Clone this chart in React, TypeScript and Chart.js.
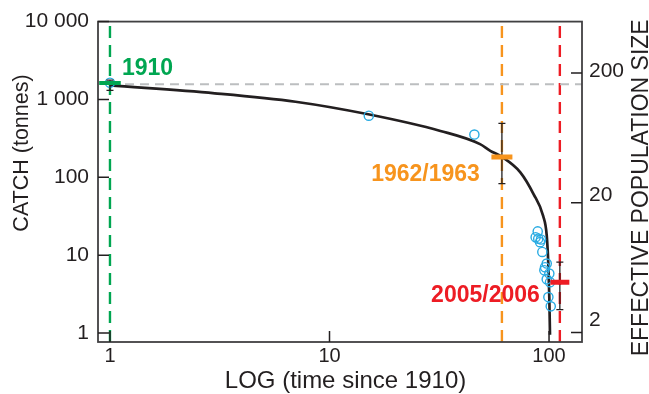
import { useEffect, useRef } from "react";
import { Chart, registerables } from "chart.js";

Chart.register(...registerables);

// ---------- data ----------
// axis ranges
const X_MIN = 0.882;
const X_MAX = 141.3;
const CATCH_MIN = 0.767;
const CATCH_MAX = 10000;
const NE_MIN = 1.686;
const NE_MAX = 498;

// tick values
const xTicks = [1, 10, 100];
const catchTicks = [1, 10, 100, 1000, 10000];
const neTicks = [2, 20, 200];

// fitted catch curve: time since 1910, catch (tonnes)
const curveT = [1, 3, 7, 15, 32, 48.5, 54, 61, 74, 85, 94, 97.6, 99.3, 100.3, 101];
const curveC = [1514, 1200, 935, 645, 394, 267, 219, 183, 116, 61, 32, 18, 7.4, 2.8, 0.95];

// observed catches
const obsT = [1, 15.1, 45.7, 86.9, 88.8, 89.3, 91.0, 91.9, 93.2, 95.2, 95.9, 97.6, 97.6, 99.3, 100.3, 101, 101.8];
const obsC = [1640, 619, 354, 17.0, 20.2, 16.3, 14.7, 15.9, 11.0, 6.4, 7.0, 7.8, 4.9, 2.9, 5.8, 4.5, 2.2];

// effective population size estimates
const neLabels = ["1910", "1962/1963", "2005/2006"];
const neT = [1, 61, 112];
const neMid = [167.6, 45.1, 4.87];
const neLo = [147, 28.1, 3.0];
const neHi = [176, 81.8, 6.97];
const neRef = 164; // reference level (1910)

// ---------- styles ----------
const FONT = '"Liberation Sans", Arial, Helvetica, sans-serif';
const INK = "#231f20";
const FRAME = "#414042";
const BLUE = "#29abe2";
const GREY = "#bcbec0";
const EVENT_COLORS = ["#00a651", "#f7941d", "#ed1c24"];
const MARKER_RADIUS = [10.8, 10.5, 9.5];
const MARKER_WIDTH = [4, 5, 5];
const LABEL_DX = [12, -22, -20];
const LABEL_DY = [-7.7, 24, 20];
const LABEL_ALIGN: CanvasTextAlign[] = ["left", "right", "right"];
const NE_LABEL_NUDGE = [-12.5, -7, -2.2];
const TICK = 11;

const fmtCatch = (v: number) => String(Math.round(v)).replace(/\B(?=(\d{3})+(?!\d))/g, " ");

const decor = {
  id: "decor",
  afterDatasetsDraw(chart: any) {
    const { ctx, chartArea: a, scales } = chart;
    ctx.save();
    // frame
    ctx.strokeStyle = FRAME;
    ctx.lineWidth = 1.8;
    ctx.strokeRect(a.left, a.top, a.right - a.left, a.bottom - a.top);
    // inward tick marks
    ctx.strokeStyle = INK;
    ctx.lineWidth = 1.5;
    ctx.beginPath();
    catchTicks.forEach((v) => {
      const y = scales.y.getPixelForValue(v);
      ctx.moveTo(a.left, y);
      ctx.lineTo(a.left + TICK, y);
    });
    xTicks.forEach((v) => {
      const x = scales.x.getPixelForValue(v);
      ctx.moveTo(x, a.bottom);
      ctx.lineTo(x, a.bottom - TICK);
    });
    neTicks.forEach((v) => {
      const y = scales.y2.getPixelForValue(v);
      ctx.moveTo(a.right, y);
      ctx.lineTo(a.right - TICK, y);
    });
    ctx.stroke();

    // right axis tick labels
    ctx.fillStyle = INK;
    ctx.font = `21px ${FONT}`;
    ctx.textAlign = "left";
    ctx.textBaseline = "middle";
    neTicks.forEach((v, i) => {
      ctx.fillText(String(v), a.right + 7, scales.y2.getPixelForValue(v) + NE_LABEL_NUDGE[i]);
    });

    // axis titles
    ctx.textAlign = "center";
    ctx.textBaseline = "alphabetic";
    ctx.font = `24px ${FONT}`;
    ctx.fillText("LOG (time since 1910)", (a.left + a.right) / 2 + 5.5, 388.3);

    ctx.save();
    ctx.translate(28, 153);
    ctx.rotate(-Math.PI / 2);
    ctx.font = `21.5px ${FONT}`;
    ctx.fillText("CATCH (tonnes)", 0, 0);
    ctx.restore();

    ctx.save();
    ctx.translate(648, (a.top + a.bottom) / 2 + 6);
    ctx.rotate(-Math.PI / 2);
    ctx.font = `23px ${FONT}`;
    ctx.fillText("EFFECTIVE POPULATION SIZE", 0, 0);
    ctx.restore();

    // event labels
    ctx.font = `bold 23px ${FONT}`;
    neLabels.forEach((lab, i) => {
      ctx.fillStyle = EVENT_COLORS[i];
      ctx.textAlign = LABEL_ALIGN[i];
      const x = scales.x.getPixelForValue(neT[i]) + LABEL_DX[i];
      const y = scales.y2.getPixelForValue(neMid[i]) + LABEL_DY[i];
      ctx.fillText(lab, x, y);
    });
    ctx.restore();
  },
};

export default function App() {
  const ref = useRef<HTMLCanvasElement | null>(null);

  useEffect(() => {
    if (!ref.current) return;
    const datasets: any[] = [];

    // vertical event lines
    neT.forEach((t, i) => {
      datasets.push({
        type: "line",
        data: [
          { x: t, y: CATCH_MIN },
          { x: t, y: CATCH_MAX },
        ],
        yAxisID: "y",
        borderColor: EVENT_COLORS[i],
        borderWidth: 2.4,
        borderDash: [12, 7],
        pointRadius: 0,
        order: 10,
      });
    });

    // grey reference line
    datasets.push({
      type: "line",
      data: [
        { x: neT[0], y: neRef },
        { x: X_MAX, y: neRef },
      ],
      yAxisID: "y2",
      borderColor: GREY,
      borderWidth: 2,
      borderDash: [9, 6],
      pointRadius: 0,
      order: 9,
    });

    // fitted curve
    datasets.push({
      type: "line",
      data: curveT.map((t, i) => ({ x: t, y: curveC[i] })),
      yAxisID: "y",
      borderColor: INK,
      borderWidth: 2.7,
      pointRadius: 0,
      cubicInterpolationMode: "monotone",
      order: 8,
    });

    // observed catches
    datasets.push({
      type: "scatter",
      data: obsT.map((t, i) => ({ x: t, y: obsC[i] })),
      yAxisID: "y",
      pointStyle: "circle",
      pointRadius: 4.6,
      pointBorderWidth: 1.4,
      pointBorderColor: BLUE,
      pointBackgroundColor: "rgba(0,0,0,0)",
      order: 6,
    });

    // error bars
    neT.forEach((t, i) => {
      datasets.push({
        type: "line",
        data: [
          { x: t, y: neLo[i] },
          { x: t, y: neHi[i] },
        ],
        yAxisID: "y2",
        borderColor: INK,
        borderWidth: 1.3,
        pointStyle: "line",
        pointRadius: 3.5,
        pointBorderWidth: 1.3,
        pointBorderColor: INK,
        order: 4,
      });
    });

    // Ne markers
    neT.forEach((t, i) => {
      datasets.push({
        type: "scatter",
        data: [{ x: t, y: neMid[i] }],
        yAxisID: "y2",
        pointStyle: "line",
        pointRadius: MARKER_RADIUS[i],
        pointBorderWidth: MARKER_WIDTH[i],
        pointBorderColor: EVENT_COLORS[i],
        order: 2,
      });
    });

    const chart = new Chart(ref.current, {
      type: "scatter",
      data: { datasets },
      options: {
        animation: false,
        responsive: false,
        devicePixelRatio: 1,
        layout: { padding: { top: 20, left: 0, right: 0, bottom: 0 } },
        plugins: { legend: { display: false }, tooltip: { enabled: false } },
        scales: {
          x: {
            type: "logarithmic",
            position: "bottom",
            min: X_MIN,
            max: X_MAX,
            afterBuildTicks: (s: any) => {
              s.ticks = xTicks.map((v) => ({ value: v }));
            },
            afterFit: (s: any) => {
              s.height = 52;
            },
            grid: { display: false, drawTicks: false },
            border: { display: false },
            ticks: {
              font: { family: FONT, size: 20 },
              color: INK,
              padding: 2,
              maxRotation: 0,
              autoSkip: false,
              callback: (v: any) => String(v),
            },
          },
          y: {
            type: "logarithmic",
            position: "left",
            min: CATCH_MIN,
            max: CATCH_MAX,
            afterBuildTicks: (s: any) => {
              s.ticks = catchTicks.map((v) => ({ value: v }));
            },
            afterFit: (s: any) => {
              s.width = 98;
            },
            grid: { display: false, drawTicks: false },
            border: { display: false },
            ticks: {
              font: { family: FONT, size: 21 },
              color: INK,
              padding: 9,
              autoSkip: false,
              callback: (v: any) => fmtCatch(Number(v)),
            },
          },
          y2: {
            type: "logarithmic",
            position: "right",
            min: NE_MIN,
            max: NE_MAX,
            afterBuildTicks: (s: any) => {
              s.ticks = neTicks.map((v) => ({ value: v }));
            },
            afterFit: (s: any) => {
              s.width = 67;
            },
            grid: { display: false, drawTicks: false },
            border: { display: false },
            ticks: { display: false },
          },
        },
      } as any,
      plugins: [decor],
    });
    return () => chart.destroy();
  }, []);

  return (
    <div style={{ position: "fixed", left: 0, top: 0, width: 649, height: 394, background: "#fff" }}>
      <canvas ref={ref} width={649} height={394} style={{ display: "block" }} />
    </div>
  );
}
